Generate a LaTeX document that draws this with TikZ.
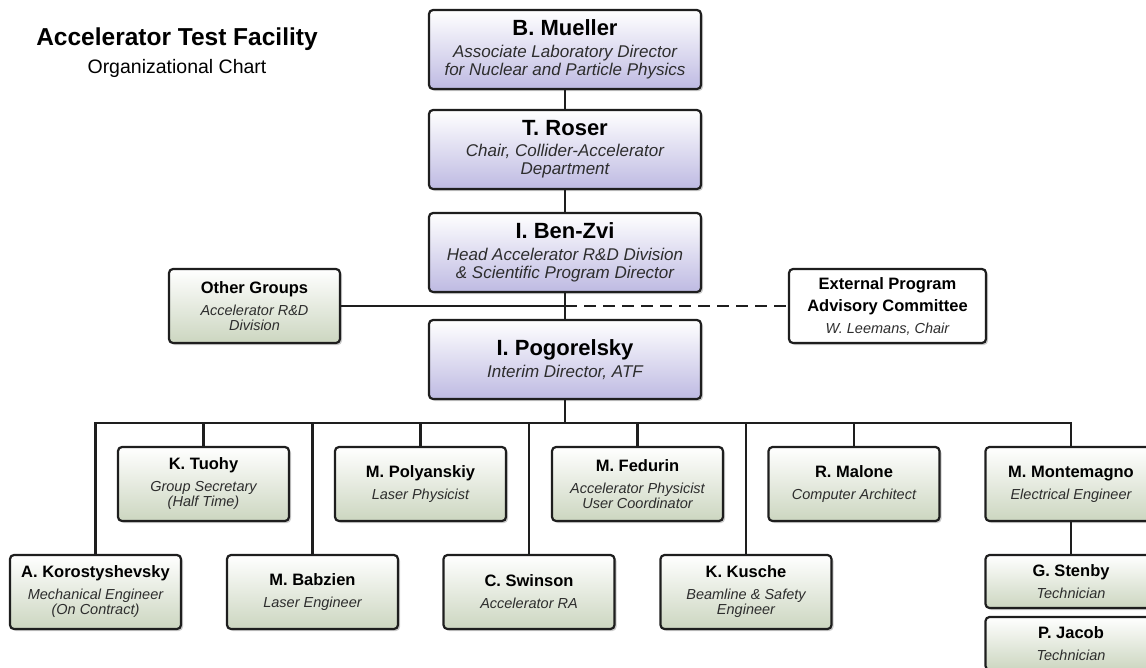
\documentclass[tikz,border=0pt]{standalone}
\usepackage{fontspec}
\setmainfont{Liberation Sans}
\usepackage{xcolor}
\usetikzlibrary{shadows}

\definecolor{bosslilac}{RGB}{190,186,226}
\definecolor{staffsage}{RGB}{204,214,192}
\definecolor{rolegray}{RGB}{45,45,45}
\definecolor{edgegray}{RGB}{30,30,30}

\newcommand{\bossname}{\fontsize{22}{24}\selectfont\bfseries\upshape\color{black}}
\newcommand{\staffname}{\fontsize{16.5}{18}\selectfont\bfseries\upshape\color{black}}

\begin{document}
\begin{tikzpicture}[x=1pt,y=-1pt,
    card/.style={rectangle, rounded corners=4pt, draw=edgegray, line width=2.2pt, align=center,
        inner sep=0pt, text=rolegray,
        drop shadow={shadow xshift=2pt, shadow yshift=-2pt, opacity=0.4}},
    bossbox/.style={card, minimum width=272pt, minimum height=79pt, top color=white,
        bottom color=bosslilac, font=\fontsize{17}{18}\selectfont\itshape},
    staffbox/.style={card, minimum width=171pt, minimum height=74pt, top color=white,
        bottom color=staffsage, font=\fontsize{14.5}{15}\selectfont\itshape},
    techbox/.style={staffbox, minimum height=53pt},
    extbox/.style={card, minimum width=197pt, minimum height=74pt, fill=white,
        font=\fontsize{14.5}{15}\selectfont\itshape},
    link/.style={draw=edgegray, line width=2.6pt}]
                \path[use as bounding box, clip] (0,0) rectangle (1146,667);

                % Title
                \node[anchor=base, font=\fontsize{24.5}{26}\selectfont\bfseries] (title) at (177,45) {Accelerator Test Facility};
                \node[anchor=base, font=\fontsize{19.5}{21}\selectfont] (subtitle) at (177,73) {Organizational Chart};

                % Chain of command
                \coordinate (hub) at (565,306);
                \coordinate (bus) at (565,423);

                % Line management
                \node[bossbox] (mueller) at (565,49.5) {{\bossname B. Mueller}\\[4pt] Associate Laboratory Director\\ for Nuclear and Particle Physics};
                \node[bossbox] (roser) at (565,149.5) {{\bossname T. Roser}\\[3pt] Chair, Collider-Accelerator\\ Department};
                \node[bossbox] (benzvi) at (565,252.5) {{\bossname I. Ben-Zvi}\\[4pt] Head Accelerator R\&D Division\\ \& Scientific Program Director};
                \node[bossbox] (pogorelsky) at (565,359.5) {{\bossname I. Pogorelsky}\\[4pt] Interim Director, ATF};

                % Side boxes
                \node[staffbox] (other) at (254.5,306) {{\staffname Other Groups}\\[7pt] Accelerator R\&D\\ Division};
                \node[extbox] (external) at (887.5,306) {{\staffname External Program}\\[5.5pt] {\staffname Advisory Committee}\\[7pt] W. Leemans, Chair};

                % Staff, upper row
                \node[staffbox] (tuohy) at (203.5,484) {{\staffname K. Tuohy}\\[7pt] Group Secretary\\ (Half Time)};
                \node[staffbox] (polyanskiy) at (420.5,484) {{\staffname M. Polyanskiy}\\[7pt] Laser Physicist};
                \node[staffbox] (fedurin) at (637.5,484) {{\staffname M. Fedurin}\\[7pt] Accelerator Physicist\\ User Coordinator};
                \node[staffbox] (malone) at (854,484) {{\staffname R. Malone}\\[7pt] Computer Architect};
                \node[staffbox] (montemagno) at (1071,484) {{\staffname M. Montemagno}\\[7pt] Electrical Engineer};

                % Staff, lower row
                \node[staffbox] (korost) at (95.5,592) {{\staffname A. Korostyshevsky}\\[7pt] Mechanical Engineer\\ (On Contract)};
                \node[staffbox] (babzien) at (312.5,592) {{\staffname M. Babzien}\\[7pt] Laser Engineer};
                \node[staffbox] (swinson) at (529,592) {{\staffname C. Swinson}\\[7pt] Accelerator RA};
                \node[staffbox] (kusche) at (746,592) {{\staffname K. Kusche}\\[7pt] Beamline \& Safety\\ Engineer};

                % Technicians
                \node[techbox] (stenby) at (1071,581.5) {{\staffname G. Stenby}\\[7pt] Technician};
                \node[techbox] (jacob) at (1071,643.5) {{\staffname P. Jacob}\\[7pt] Technician};

                % Connectors
                \draw[link] (mueller) -- (roser);
                \draw[link] (roser) -- (benzvi);
                \draw[link] (benzvi) -- (pogorelsky);
                \draw[link] (other) -- (hub);
                \draw[link, dash pattern=on 12pt off 7pt] (hub) -- (external);

                % Staff bus
                \coordinate (busleft) at (korost.north |- bus);
                \coordinate (busright) at (montemagno.north |- bus);
                \draw[link] (pogorelsky) -- (bus);
                \draw[link] (korost) -- (busleft) -- (busright) -- (montemagno);
                \foreach \who in {tuohy, babzien, polyanskiy, swinson, fedurin, kusche, malone}
                    \draw[link] (\who.north) -- (\who.north |- bus);
                \draw[link] (montemagno) -- (stenby);
            \end{tikzpicture}
\end{document}
